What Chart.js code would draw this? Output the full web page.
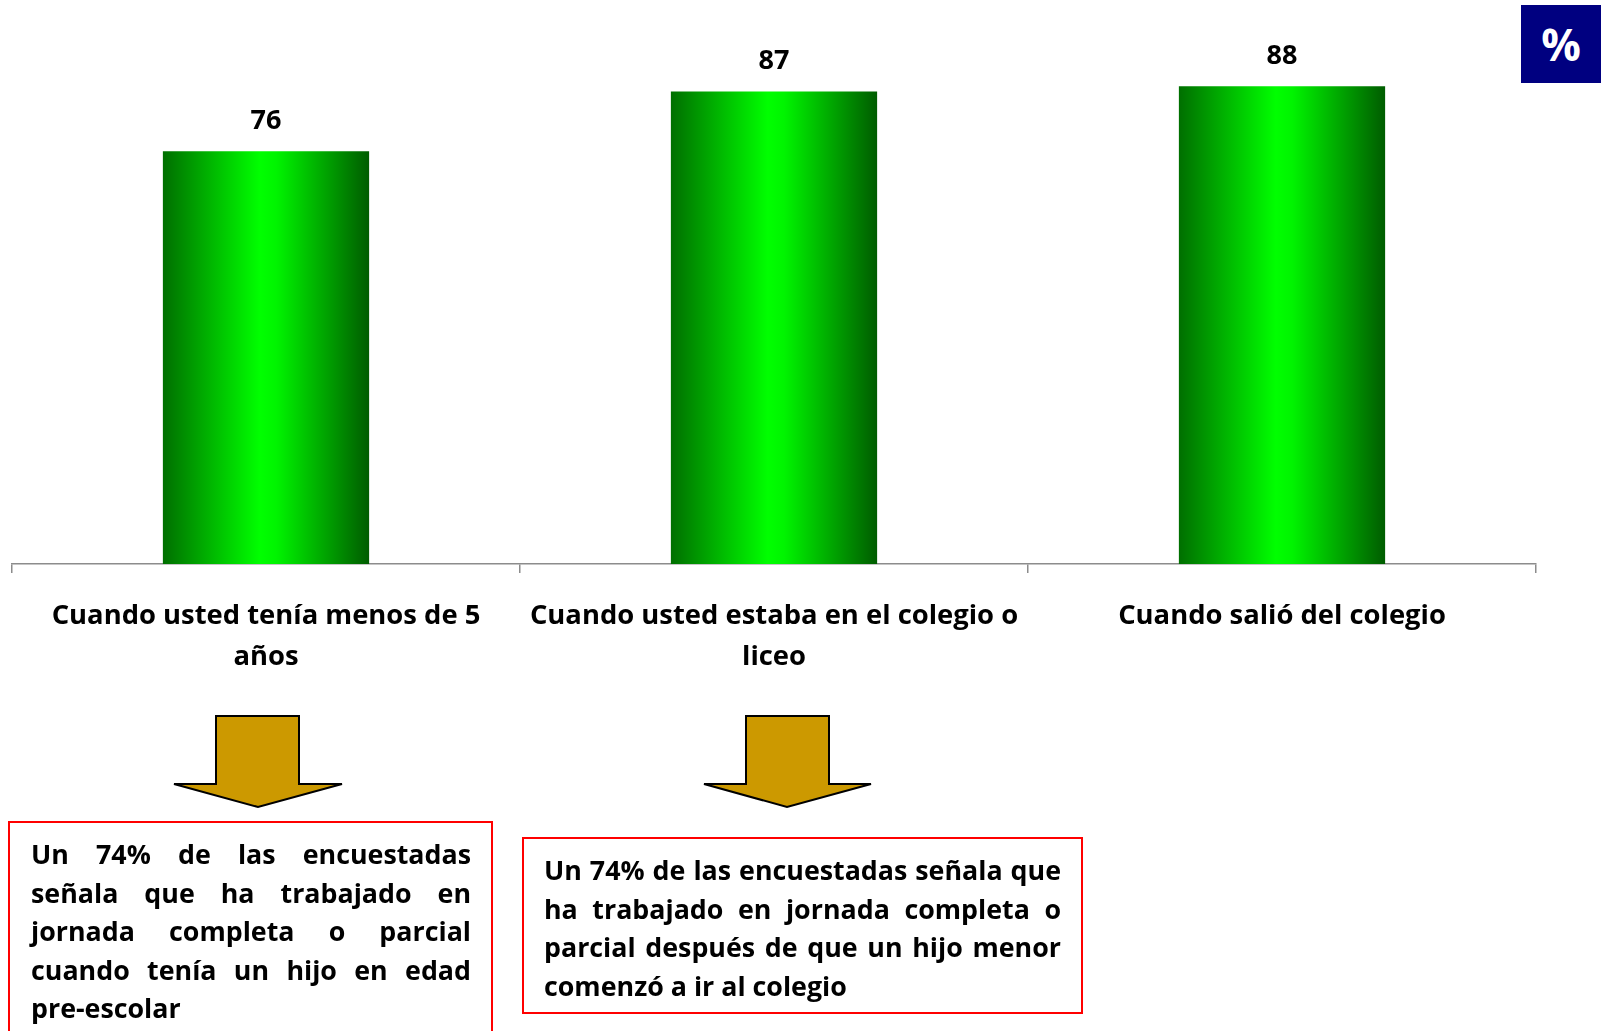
<!DOCTYPE html>
<html>
<head>
<meta charset="utf-8">
<script src="https://cdn.jsdelivr.net/npm/chart.js@4"></script>
<style>
  body { margin: 0; width: 1604px; height: 1031px; overflow: hidden; background: #fff; position: relative; font-family: 'Open Sans', Lato, sans-serif; }
  #wrap { position: absolute; left: 0; top: 0; width: 1604px; height: 700px; }
  .pct { position: absolute; left: 1521px; top: 5px; width: 80px; height: 78px; background: #000080; color: #fff;
         font-weight: bold; font-size: 44px; line-height: 78px; text-align: center; }
  .note { position: absolute; box-sizing: border-box; border: 2px solid #ff0000; font-weight: bold; font-size: 26.8px; line-height: 38.5px; color: #000; }
  .note span { display: block; text-align: justify; text-align-last: justify; white-space: nowrap; }
  .note span.last { text-align-last: left; }
  #arrows { position: absolute; left: 0; top: 0; }
</style>
</head>
<body>
<div id="wrap"><canvas id="chart" width="1604" height="700"></canvas></div>
<div class="pct">%</div>

<svg id="arrows" width="1604" height="1031">
  <polygon points="216,716 299,716 299,784 342,784 258,807 174,784 216,784" fill="#cc9900" stroke="#000" stroke-width="2" stroke-linejoin="miter"/>
  <polygon points="746,716 829,716 829,784 871,784 787,807 704,784 746,784" fill="#cc9900" stroke="#000" stroke-width="2" stroke-linejoin="miter"/>
</svg>

<div class="note" style="left:8px; top:821px; width:485px; height:230px; padding:12px 20px 0 21px;">
  <span>Un 74% de las encuestadas</span>
  <span>señala que ha trabajado en</span>
  <span>jornada completa o parcial</span>
  <span>cuando tenía un hijo en edad</span>
  <span class="last">pre-escolar</span>
</div>
<div class="note" style="left:522px; top:837px; width:561px; height:177px; padding:12px 20px 0 20px;">
  <span>Un 74% de las encuestadas señala que</span>
  <span>ha trabajado en jornada completa o</span>
  <span>parcial después de que un hijo menor</span>
  <span class="last">comenzó a ir al colegio</span>
</div>

<script>
const categories = [
  ['Cuando usted tenía menos de 5', 'años'],
  ['Cuando usted estaba en el colegio o', 'liceo'],
  ['Cuando salió del colegio']
];
const values = [76, 87, 88];

// shaded green bars, dark at the edges
const barFill = (c) => {
  const chart = c.chart;
  const xs = chart.scales.x;
  if (!chart.chartArea || !xs) return '#00cc00';
  const mid = xs.getPixelForValue(c.dataIndex);
  const half = xs.width / categories.length * 0.406 / 2;
  const g = chart.ctx.createLinearGradient(mid - half, 0, mid + half, 0);
  g.addColorStop(0, '#006f00');
  g.addColorStop(0.47, '#00ff00');
  g.addColorStop(0.55, '#00f400');
  g.addColorStop(1, '#005c00');
  return g;
};

const valueLabels = {
  id: 'valueLabels',
  afterDatasetsDraw(chart) {
    const ctx = chart.ctx;
    const meta = chart.getDatasetMeta(0);
    ctx.save();
    ctx.font = 'bold 27px "Open Sans"';
    ctx.fillStyle = '#000';
    ctx.textAlign = 'center';
    ctx.textBaseline = 'middle';
    meta.data.forEach((bar, i) => {
      ctx.fillText(values[i], bar.x, bar.y - 30);
    });
    ctx.restore();
  }
};

const ctx = document.getElementById('chart').getContext('2d');
const myChart = new Chart(ctx, {
  type: 'bar',
  data: {
    labels: categories,
    datasets: [{
      data: values,
      backgroundColor: barFill,
      borderWidth: 0,
      categoryPercentage: 1,
      barPercentage: 0.406
    }]
  },
  options: {
    responsive: false,
    animation: false,
    layout: { padding: { left: 12, right: 68, top: 21, bottom: 0 } },
    plugins: { legend: { display: false }, tooltip: { enabled: false } },
    scales: {
      x: {
        grid: { display: true, drawOnChartArea: false, drawTicks: true, tickLength: 9, color: '#8c8c8c', lineWidth: 1.5, offset: true },
        border: { display: true, color: '#8c8c8c', width: 1.5 },
        ticks: {
          color: '#000',
          font: { family: 'Open Sans', weight: 'bold', size: 27.4, lineHeight: 1.5 },
          padding: 23,
          maxRotation: 0,
          autoSkip: false
        },
        afterFit: (s) => { s.height = 136; }
      },
      y: { display: false, min: 0, max: 100 }
    }
  },
  plugins: [valueLabels]
});
</script>
</body>
</html>
